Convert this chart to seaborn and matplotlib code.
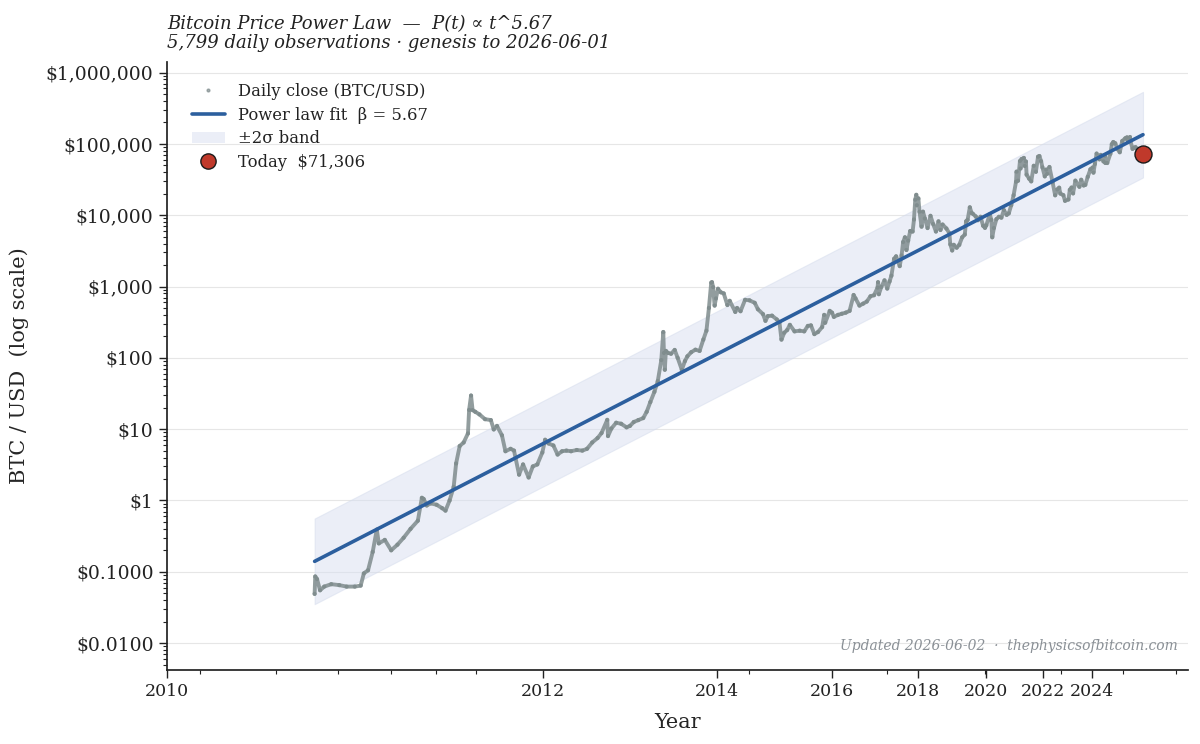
import numpy as np
import pandas as pd
import matplotlib
matplotlib.use("Agg")
import matplotlib.pyplot as plt
import seaborn as sns
from matplotlib.ticker import FuncFormatter, FixedLocator, LogLocator, NullFormatter
from matplotlib.lines import Line2D
from matplotlib.patches import Patch

# ---------------- data ----------------
obs_dates = [
    # 2010
    "2010-07-17", "2010-07-18", "2010-07-21", "2010-07-26", "2010-08-02", "2010-08-14",
    "2010-08-28", "2010-09-10", "2010-09-25", "2010-10-06", "2010-10-12", "2010-10-20",
    "2010-10-29", "2010-11-06", "2010-11-10", "2010-11-22", "2010-12-05", "2010-12-18",
    "2010-12-31",
    # 2011
    "2011-01-15", "2011-01-31", "2011-02-09", "2011-02-13", "2011-02-20", "2011-03-01",
    "2011-03-15", "2011-03-28", "2011-04-05", "2011-04-15", "2011-04-25", "2011-05-01",
    "2011-05-10", "2011-05-20", "2011-05-31", "2011-06-03", "2011-06-08", "2011-06-12",
    "2011-06-19", "2011-06-30", "2011-07-15", "2011-07-31", "2011-08-08", "2011-08-17",
    "2011-08-31", "2011-09-10", "2011-09-25", "2011-10-05", "2011-10-20", "2011-11-01",
    "2011-11-18", "2011-12-01", "2011-12-15", "2011-12-31",
    # 2012
    "2012-01-09", "2012-01-20", "2012-02-05", "2012-02-19", "2012-03-05", "2012-03-20",
    "2012-04-05", "2012-04-25", "2012-05-15", "2012-06-01", "2012-06-20", "2012-07-10",
    "2012-07-25", "2012-08-16", "2012-08-19", "2012-09-01", "2012-09-20", "2012-10-10",
    "2012-11-01", "2012-11-15", "2012-12-01", "2012-12-20",
    # 2013
    "2013-01-10", "2013-01-25", "2013-02-10", "2013-02-28", "2013-03-15", "2013-03-31",
    "2013-04-09", "2013-04-12", "2013-04-16", "2013-04-21", "2013-05-01", "2013-05-15",
    "2013-06-01", "2013-06-15", "2013-07-05", "2013-07-20", "2013-08-01", "2013-08-20",
    "2013-09-10", "2013-10-01", "2013-10-20", "2013-11-05", "2013-11-18", "2013-11-30",
    "2013-12-04", "2013-12-10", "2013-12-18", "2013-12-25",
    # 2014
    "2014-01-05", "2014-01-20", "2014-02-05", "2014-02-25", "2014-03-10", "2014-04-10",
    "2014-04-20", "2014-05-10", "2014-06-05", "2014-07-01", "2014-08-01", "2014-08-20",
    "2014-09-20", "2014-10-05", "2014-10-20", "2014-11-15", "2014-12-15",
    # 2015
    "2015-01-01", "2015-01-14", "2015-02-01", "2015-02-20", "2015-03-10", "2015-04-10",
    "2015-05-15", "2015-06-15", "2015-07-10", "2015-08-01", "2015-08-25", "2015-09-20",
    "2015-10-20", "2015-11-04", "2015-11-11", "2015-12-15",
    # 2016
    "2016-01-01", "2016-01-15", "2016-02-15", "2016-03-15", "2016-04-15", "2016-05-15",
    "2016-06-16", "2016-07-01", "2016-08-02", "2016-09-01", "2016-10-01", "2016-11-01",
    "2016-12-01", "2016-12-31",
    # 2017
    "2017-01-04", "2017-01-11", "2017-02-01", "2017-03-01", "2017-03-25", "2017-04-15",
    "2017-05-01", "2017-05-25", "2017-06-12", "2017-07-15", "2017-08-01", "2017-08-15",
    "2017-09-01", "2017-09-15", "2017-10-01", "2017-10-20", "2017-11-12", "2017-11-25",
    "2017-12-07", "2017-12-17", "2017-12-22",
    # 2018
    "2018-01-06", "2018-01-17", "2018-02-06", "2018-02-20", "2018-03-10", "2018-04-06",
    "2018-05-05", "2018-06-01", "2018-06-29", "2018-07-25", "2018-08-14", "2018-09-05",
    "2018-10-15", "2018-11-15", "2018-11-25", "2018-12-15",
    # 2019
    "2019-01-01", "2019-02-01", "2019-03-01", "2019-04-02", "2019-05-01", "2019-05-15",
    "2019-06-01", "2019-06-26", "2019-07-15", "2019-08-01", "2019-09-01", "2019-09-25",
    "2019-10-26", "2019-11-25", "2019-12-17",
    # 2020
    "2020-01-01", "2020-02-12", "2020-03-01", "2020-03-12", "2020-04-01", "2020-05-01",
    "2020-06-01", "2020-07-01", "2020-08-01", "2020-09-05", "2020-10-01", "2020-11-01",
    "2020-12-01",
    # 2021
    "2021-01-01", "2021-01-08", "2021-01-27", "2021-02-21", "2021-02-28", "2021-03-13",
    "2021-04-13", "2021-04-25", "2021-05-10", "2021-05-19", "2021-06-22", "2021-07-20",
    "2021-08-23", "2021-09-21", "2021-10-20", "2021-11-08", "2021-12-01", "2021-12-20",
    # 2022
    "2022-01-22", "2022-02-10", "2022-02-24", "2022-03-28", "2022-05-12", "2022-06-18",
    "2022-07-20", "2022-08-15", "2022-09-01", "2022-10-15", "2022-11-09", "2022-12-30",
    # 2023
    "2023-01-20", "2023-02-15", "2023-03-10", "2023-04-14", "2023-06-15", "2023-07-13",
    "2023-08-20", "2023-09-15", "2023-10-24", "2023-12-05",
    # 2024
    "2024-01-10", "2024-01-23", "2024-02-15", "2024-03-14", "2024-04-30", "2024-05-21",
    "2024-07-05", "2024-07-29", "2024-08-05", "2024-09-06", "2024-10-29", "2024-11-22",
    "2024-12-17",
    # 2025-2026
    "2025-01-20", "2025-02-27", "2025-04-08", "2025-05-21", "2025-07-14", "2025-08-13",
    "2025-09-01", "2025-10-06", "2025-10-10", "2025-11-21", "2025-12-15", "2026-01-15",
    "2026-03-01", "2026-04-15", "2026-06-01",
]

obs_close = [
    # 2010
    0.049, 0.086, 0.079, 0.055, 0.062, 0.067,
    0.065, 0.062, 0.062, 0.064, 0.095, 0.105,
    0.19, 0.39, 0.25, 0.28, 0.20, 0.24,
    0.30,
    # 2011
    0.40, 0.52, 1.09, 1.05, 0.85, 0.91,
    0.87, 0.78, 0.72, 1.0, 1.55, 3.3,
    5.8, 6.5, 8.7, 18.6, 29.6, 18.5,
    17.5, 16.1, 13.8, 13.4, 9.9, 11.1,
    8.2, 4.9, 5.3, 5.0, 2.3, 3.2,
    2.1, 3.0, 3.2, 4.7,
    # 2012
    7.1, 6.3, 5.9, 4.4, 4.9, 5.0,
    4.9, 5.1, 5.0, 5.3, 6.5, 7.5,
    8.8, 13.5, 8.0, 10.2, 12.3, 11.9,
    10.6, 11.1, 12.6, 13.4,
    # 2013
    14.3, 17.5, 24.0, 33.4, 47.0, 93.0,
    230, 117, 68, 125, 117, 114,
    129, 100, 68, 90, 105, 120,
    130, 125, 180, 240, 500, 1130,
    1150, 980, 540, 680,
    # 2014
    930, 830, 800, 550, 630, 440,
    500, 450, 650, 640, 590, 480,
    410, 330, 385, 390, 345,
    # 2015
    315, 180, 225, 245, 290, 235,
    240, 235, 280, 285, 215, 230,
    270, 400, 310, 455,
    # 2016
    430, 375, 400, 415, 430, 455,
    760, 680, 540, 575, 615, 730,
    755, 965,
    # 2017
    1150, 780, 985, 1220, 935, 1180,
    1420, 2450, 2650, 1930, 2730, 4200,
    4900, 3250, 4400, 6000, 5900, 8700,
    16500, 19300, 13800,
    # 2018
    17200, 11200, 6900, 11200, 9000, 6600,
    9800, 7500, 5900, 8200, 6200, 7400,
    6500, 5600, 3900, 3200,
    # 2019
    3840, 3500, 3830, 4900, 5350, 8200,
    8570, 12900, 10800, 10400, 9600, 8500,
    9500, 7100, 6640,
    # 2020
    7200, 10300, 8600, 4900, 6600, 8800,
    9500, 9230, 11800, 10100, 10600, 13800,
    19000,
    # 2021
    29400, 40800, 30400, 57500, 45100, 61200,
    63500, 49000, 56700, 37000, 32500, 29800,
    49300, 40600, 66000, 67500, 57200, 46700,
    # 2022
    35000, 43600, 38000, 47400, 29000, 19000,
    23000, 24300, 20100, 19100, 15900, 16600,
    # 2023
    22700, 24400, 20200, 30500, 25000, 31400,
    26100, 26600, 34500, 44000,
    # 2024
    46600, 39500, 52000, 73100, 60600, 70000,
    56700, 68300, 54000, 53900, 72700, 98900,
    106100,
    # 2025-2026
    102000, 84700, 76300, 109600, 119800, 123300,
    108000, 124700, 113000, 85000, 88000, 90000,
    80000, 76000, 71306,
]

genesis_date = "2009-01-03"
today_date = "2026-06-01"
today_price = 71306

fit_beta = 5.67
fit_log10_a = -16.436
fit_two_sigma_log10 = 0.60

tick_years = [2010, 2012, 2014, 2016, 2018, 2020, 2022, 2024]

# ---------------- build frame ----------------
assert len(obs_dates) == len(obs_close)
genesis = pd.Timestamp(genesis_date)
df = pd.DataFrame({"date": pd.to_datetime(obs_dates), "close": obs_close})
df["days"] = (df["date"] - genesis).dt.days

fit_days = np.geomspace(df["days"].min(), df["days"].max(), 200)
fit_vals = 10 ** fit_log10_a * fit_days ** fit_beta
band_hi = fit_vals * 10 ** fit_two_sigma_log10
band_lo = fit_vals / 10 ** fit_two_sigma_log10
fit_df = pd.DataFrame({"days": fit_days, "fit": fit_vals})

today_days = (pd.Timestamp(today_date) - genesis).days
year_days = [(pd.Timestamp(f"{y}-01-01") - genesis).days for y in tick_years]

# ---------------- style ----------------
sns.set_theme(style="ticks")
plt.rcParams["font.family"] = ["DejaVu Serif"]
plt.rcParams["axes.edgecolor"] = "#222222"
plt.rcParams["text.color"] = "#222222"

fig = plt.figure(figsize=(12, 7.44), dpi=100)
ax = fig.add_axes([0.139, 0.0995, 0.851, 0.817])
ax.set_xscale("log")
ax.set_yscale("log")

DOT = "#7f8c8d"
FIT = "#2c5f9e"
BAND = "#d8dff0"
RED = "#c0392b"

ax.fill_between(fit_days, band_lo, band_hi, color=BAND, alpha=0.5, lw=0.8,
                edgecolor="#d4dbec", zorder=1)

sns.lineplot(data=df, x="days", y="close", ax=ax, color=DOT, lw=2.8, alpha=0.85,
             estimator=None, sort=False, legend=False, zorder=2)
sns.scatterplot(data=df, x="days", y="close", ax=ax, color=DOT, s=9, alpha=0.9,
                edgecolor="none", legend=False, zorder=3)
sns.lineplot(data=fit_df, x="days", y="fit", ax=ax, color=FIT, lw=2.6,
             legend=False, zorder=4)
ax.scatter([today_days], [today_price], s=150, color=RED, edgecolor="#1a1a1a",
           lw=1.0, zorder=6)

# ---------------- axes ----------------
ax.set_xlim(363, 7255)
ax.set_ylim(0.0042, 1.4e6)

ax.xaxis.set_major_locator(FixedLocator(year_days))
ax.set_xticklabels([str(y) for y in tick_years])
ax.xaxis.set_minor_locator(LogLocator(base=10, subs=np.arange(2, 10) * 1.0, numticks=20))
ax.xaxis.set_minor_formatter(NullFormatter())

ax.yaxis.set_major_locator(LogLocator(base=10, numticks=20))
ax.yaxis.set_minor_locator(LogLocator(base=10, subs=np.arange(2, 10) * 1.0, numticks=20))
ax.yaxis.set_minor_formatter(NullFormatter())


def money(v, pos):
    if v >= 1:
        return f"${v:,.0f}"
    return f"${v:.4f}"


ax.yaxis.set_major_formatter(FuncFormatter(money))

ax.tick_params(axis="x", which="major", labelsize=12.5, length=6, width=1, colors="#222222")
ax.tick_params(axis="y", which="major", labelsize=13.5, length=6, width=1, colors="#222222")
ax.tick_params(which="minor", length=3, width=0.8, colors="#222222")

ax.grid(axis="y", which="major", color="#e6e6e6", lw=0.8)
ax.grid(axis="x", visible=False)
ax.set_axisbelow(True)
sns.despine(ax=ax)

ax.set_xlabel("Year", fontsize=15, labelpad=9)
ax.set_ylabel("BTC / USD  (log scale)", fontsize=15, labelpad=12)

ax.set_title("Bitcoin Price Power Law  —  P(t) ∝ t^5.67\n"
             "5,799 daily observations · genesis to 2026-06-01",
             loc="left", fontsize=13, fontstyle="italic", pad=10,
             linespacing=1.1, color="#222222")

ax.text(0.99, 0.04, "Updated 2026-06-02  ·  thephysicsofbitcoin.com",
        transform=ax.transAxes, ha="right", va="center", fontsize=10,
        fontstyle="italic", color="#8a9096")

handles = [
    Line2D([], [], ls="none", marker="o", ms=2, color=DOT, alpha=0.7),
    Line2D([], [], color=FIT, lw=2.6),
    Patch(facecolor=BAND, alpha=0.5, edgecolor="none"),
    Line2D([], [], ls="none", marker="o", ms=11, markerfacecolor=RED,
           markeredgecolor="#1a1a1a", markeredgewidth=1.0),
]
labels = ["Daily close (BTC/USD)", "Power law fit  β = 5.67", "±2σ band", "Today  $71,306"]
ax.legend(handles, labels, loc="upper left", frameon=False, fontsize=11.8,
          bbox_to_anchor=(0.01, 0.99), handlelength=2.0, labelspacing=0.4)

fig.savefig("out.png", dpi=100)
